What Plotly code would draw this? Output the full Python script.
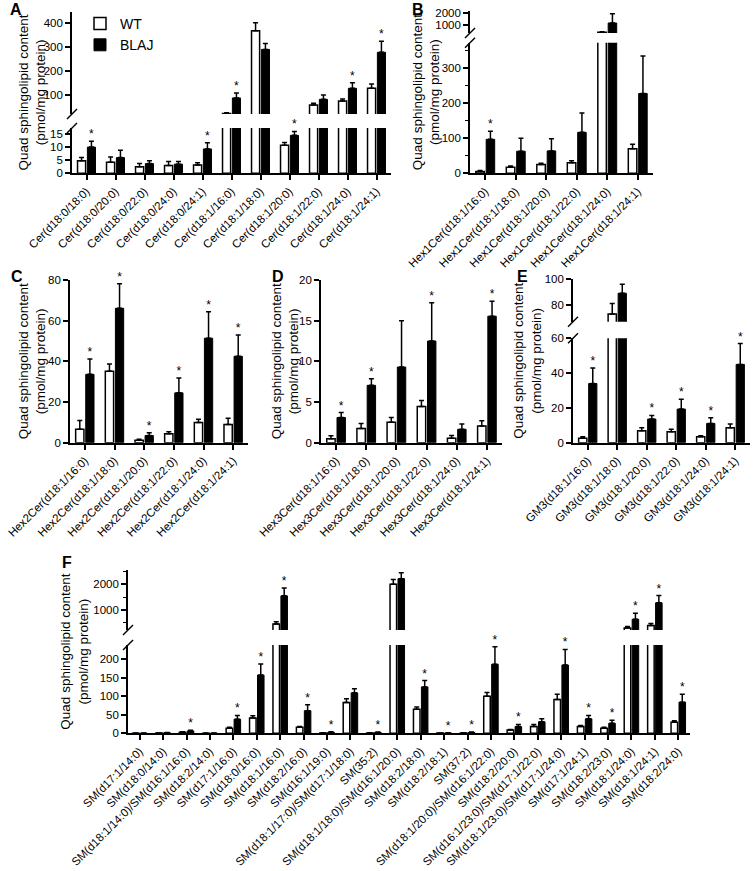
import plotly.graph_objects as go

W, H = 753, 871
FONT = "Liberation Sans, Arial, sans-serif"

# ---- data (pmol/mg protein), mean and SEM ----
A_LABELS = ["Cer(d18:0/18:0)", "Cer(d18:0/20:0)", "Cer(d18:0/22:0)", "Cer(d18:0/24:0)",
            "Cer(d18:0/24:1)", "Cer(d18:1/16:0)", "Cer(d18:1/18:0)", "Cer(d18:1/20:0)",
            "Cer(d18:1/22:0)", "Cer(d18:1/24:0)", "Cer(d18:1/24:1)"]
A_WT = [4.8, 4.2, 2.5, 3.0, 3.2, 22, 367, 10.7, 57, 74, 127]
A_WT_ERR = [1.2, 2.0, 1.2, 1.5, 0.8, 3, 33, 1.1, 8, 8, 18]
A_BLAJ = [10.0, 6.0, 3.7, 3.5, 9.3, 87, 289, 14.5, 81, 127, 277]
A_BLAJ_ERR = [2.2, 2.8, 1.1, 1.0, 2.4, 20, 25, 1.5, 18, 23, 46]
A_SIG = [1, 0, 0, 0, 1, 1, 0, 1, 0, 1, 1]

B_LABELS = ["Hex1Cer(d18:1/16:0)", "Hex1Cer(d18:1/18:0)", "Hex1Cer(d18:1/20:0)",
            "Hex1Cer(d18:1/22:0)", "Hex1Cer(d18:1/24:0)", "Hex1Cer(d18:1/24:1)"]
B_WT = [5, 17, 25, 30, 430, 70]
B_WT_ERR = [3, 4, 4, 6, 40, 13]
B_BLAJ = [97, 63, 64, 117, 1180, 228]
B_BLAJ_ERR = [23, 37, 35, 55, 740, 107]
B_SIG = [1, 0, 0, 0, 0, 0]

C_LABELS = ["Hex2Cer(d18:1/16:0)", "Hex2Cer(d18:1/18:0)", "Hex2Cer(d18:1/20:0)",
            "Hex2Cer(d18:1/22:0)", "Hex2Cer(d18:1/24:0)", "Hex2Cer(d18:1/24:1)"]
C_WT = [6.6, 35.1, 1.2, 4.4, 9.9, 9.0]
C_WT_ERR = [4.3, 3.6, 0.5, 1.0, 1.6, 3.0]
C_BLAJ = [33.6, 66.1, 3.5, 24.5, 51.4, 42.5]
C_BLAJ_ERR = [7.6, 12.0, 1.4, 7.3, 13.0, 10.5]
C_SIG = [1, 1, 1, 1, 1, 1]

D_LABELS = ["Hex3Cer(d18:1/16:0)", "Hex3Cer(d18:1/18:0)", "Hex3Cer(d18:1/20:0)",
            "Hex3Cer(d18:1/22:0)", "Hex3Cer(d18:1/24:0)", "Hex3Cer(d18:1/24:1)"]
D_WT = [0.5, 1.75, 2.5, 4.45, 0.55, 2.05]
D_WT_ERR = [0.35, 0.6, 0.6, 0.75, 0.35, 0.65]
D_BLAJ = [3.1, 7.05, 9.3, 12.5, 1.65, 15.55]
D_BLAJ_ERR = [0.6, 0.8, 5.7, 4.7, 0.65, 1.85]
D_SIG = [1, 1, 0, 1, 0, 1]

E_LABELS = ["GM3(d18:1/16:0)", "GM3(d18:1/18:0)", "GM3(d18:1/20:0)",
            "GM3(d18:1/22:0)", "GM3(d18:1/24:0)", "GM3(d18:1/24:1)"]
E_WT = [2.5, 73, 6.9, 6.3, 3.4, 8.6]
E_WT_ERR = [0.9, 8, 1.7, 1.4, 0.6, 2.1]
E_BLAJ = [34, 89, 13.6, 19.3, 11.1, 45]
E_BLAJ_ERR = [9, 7, 2.1, 5.6, 3.3, 12]
E_SIG = [1, 0, 1, 1, 1, 1]

F_LABELS = ["SM(d17:1/14:0)", "SM(d18:0/14:0)", "SM(d18:1/14:0)/SM(d16:1/16:0)", "SM(d18:2/14:0)",
            "SM(d17:1/16:0)", "SM(d18:0/16:0)", "SM(d18:1/16:0)", "SM(d18:2/16:0)",
            "SM(d16:1/19:0)", "SM(d18:1/17:0)/SM(d17:1/18:0)", "SM(35:2)",
            "SM(d18:1/18:0)/SM(d16:1/20:0)", "SM(d18:2/18:0)", "SM(d18:2/18:1)", "SM(37:2)",
            "SM(d18:1/20:0)/SM(d16:1/22:0)", "SM(d18:2/20:0)", "SM(d16:1/23:0)/SM(d17:1/22:0)",
            "SM(d18:1/23:0)/SM(d17:1/24:0)", "SM(d17:1/24:1)", "SM(d18:2/23:0)",
            "SM(d18:1/24:0)", "SM(d18:1/24:1)", "SM(d18:2/24:0)"]
F_WT = [0.4, 0.8, 3.0, 0.3, 13.5, 41, 460, 16, 1.0, 83, 1.0, 2000,
        65, 0.5, 1.0, 100, 9, 18, 91, 18, 13.5, 295, 400, 30]
F_WT_ERR = [0.2, 0.3, 1.0, 0.2, 2.5, 6, 80, 2.5, 0.5, 10, 0.5, 190,
            6, 0.3, 0.5, 10, 1.5, 6, 14, 3, 2.5, 65, 75, 4]
F_BLAJ = [0.5, 1.5, 6.5, 0.5, 38, 157, 1550, 61, 3.0, 109, 2.5, 2220,
          125, 1.0, 2.5, 186, 18, 31, 184, 39, 27, 640, 1280, 84]
F_BLAJ_ERR = [0.2, 0.5, 2.0, 0.2, 10, 30, 310, 16, 1.0, 11, 1.0, 230,
              17, 0.4, 1.0, 47, 6, 8, 42, 9, 8.5, 230, 280, 21]
F_SIG = [0, 0, 1, 0, 1, 1, 1, 1, 1, 0, 1, 0, 1, 1, 1, 1, 1, 0, 1, 1, 1, 1, 1, 1]

BARGAP = 0.32
BARGROUPGAP = 0.18
TITLE = "Quad sphingolipid content<br>(pmol/mg protein)"


def xdom(left, right):
    return [left / W, right / W]


def ydom(top, bottom):
    return [1 - bottom / H, 1 - top / H]


AXIS = dict(showline=True, linecolor="black", linewidth=1.6, ticks="outside", ticklen=5,
            tickwidth=1.5, tickcolor="black", showgrid=False, zeroline=False,
            tickfont=dict(size=11.5, color="black", family=FONT), automargin=False)

fig = go.Figure()
layout = {}
shapes = []
annotations = []
counters = {"x": 0, "y": 0}


def axname(kind, i):
    return kind if i == 1 else f"{kind}{i}"


def seg_err(vals, errs, lo, hi):
    # error bars are not clipped by plotly, keep only those whose bar top lies in this segment
    return [e if lo <= v <= hi else None for v, e in zip(vals, errs)]


def panel(letter, labels, wt, wt_err, blaj, blaj_err, sig, x_px, segs, title_x, letter_xy,
          legend=False):
    counters["x"] += 1
    ix = counters["x"]
    n = len(labels)
    idx = list(range(n))
    yids = []
    for seg in segs:
        counters["y"] += 1
        yids.append(counters["y"])
    layout["xaxis" + ("" if ix == 1 else str(ix))] = dict(
        domain=xdom(*x_px), anchor=axname("y", yids[0]), range=[-0.5, n - 0.5],
        tickvals=idx, ticktext=labels, tickangle=-45, **AXIS)
    tops = [v + e for v, e in zip(blaj, blaj_err)]
    lower_hi = segs[0]["range"][1]
    for k, (seg, iy) in enumerate(zip(segs, yids)):
        lo, hi = seg["range"]
        ya = dict(domain=ydom(*seg["px"]), anchor=axname("x", ix), range=seg["range"],
                  dtick=seg["dtick"], tick0=0, **AXIS)
        if seg.get("minor"):
            ya["minor"] = dict(dtick=seg["minor"], ticks="outside", ticklen=3, tickwidth=1.2,
                               tickcolor="black", showgrid=False)
        layout["yaxis" + ("" if iy == 1 else str(iy))] = ya
        xa_ref, ya_ref = axname("x", ix), axname("y", iy)
        show = legend and k == 0
        fig.add_trace(go.Bar(x=idx, y=wt, name="WT", showlegend=show, xaxis=xa_ref, yaxis=ya_ref,
                             marker=dict(color="white", line=dict(color="black", width=1.5)),
                             error_y=dict(type="data", symmetric=False,
                                          array=seg_err(wt, wt_err, lo, hi),
                                          arrayminus=[0] * n, color="black", thickness=1.5, width=2.5)))
        fig.add_trace(go.Bar(x=idx, y=blaj, name="BLAJ", showlegend=show, xaxis=xa_ref, yaxis=ya_ref,
                             marker=dict(color="black", line=dict(color="black", width=1)),
                             error_y=dict(type="data", symmetric=False,
                                          array=seg_err(blaj, blaj_err, lo, hi),
                                          arrayminus=[0] * n, color="black", thickness=1.5, width=2.5)))
        # significance stars above the BLAJ bars
        sx, sy = [], []
        for i in idx:
            if not sig[i]:
                continue
            in_lower = tops[i] <= lower_hi
            if (k == 0) == in_lower:
                sx.append(i + (1 - BARGAP) / 4)
                sy.append(tops[i])
        if sx:
            fig.add_trace(go.Scatter(x=sx, y=sy, mode="text", text=["*"] * len(sx),
                                     textposition="top center", showlegend=False, cliponaxis=False,
                                     textfont=dict(size=12, color="black", family=FONT),
                                     xaxis=xa_ref, yaxis=ya_ref, hoverinfo="skip"))
    # axis break marks
    if len(segs) > 1:
        ax = x_px[0]
        for yb in (segs[1]["px"][1], segs[0]["px"][0]):
            shapes.append(dict(type="line", xref="paper", yref="paper",
                               x0=(ax - 5) / W, y0=1 - (yb + 5) / H,
                               x1=(ax + 5) / W, y1=1 - (yb - 5) / H,
                               line=dict(color="black", width=1.5)))
    top_px = min(s["px"][0] for s in segs)
    bottom_px = max(s["px"][1] for s in segs)
    annotations.append(dict(text=TITLE, xref="paper", yref="paper", x=title_x / W,
                            y=1 - (top_px + bottom_px) / 2 / H, textangle=-90, showarrow=False,
                            xanchor="center", yanchor="middle",
                            font=dict(size=13.5, color="black", family=FONT)))
    annotations.append(dict(text=f"<b>{letter}</b>", xref="paper", yref="paper",
                            x=letter_xy[0] / W, y=1 - letter_xy[1] / H, showarrow=False,
                            xanchor="center", yanchor="middle",
                            font=dict(size=16, color="black", family=FONT)))


panel("A", A_LABELS, A_WT, A_WT_ERR, A_BLAJ, A_BLAJ_ERR, A_SIG, (72, 391),
      [dict(range=[0, 17.3], px=(128, 173.3), dtick=5),
       dict(range=[20, 446], px=(11.7, 114), dtick=100)],
      title_x=32, letter_xy=(16, 9), legend=True)
panel("B", B_LABELS, B_WT, B_WT_ERR, B_BLAJ, B_BLAJ_ERR, B_SIG, (470, 653),
      [dict(range=[0, 373], px=(42.7, 173.3), dtick=100, minor=50),
       dict(range=[370, 2150], px=(11, 33), dtick=1000)],
      title_x=426, letter_xy=(418, 9))
panel("C", C_LABELS, C_WT, C_WT_ERR, C_BLAJ, C_BLAJ_ERR, C_SIG, (70, 248),
      [dict(range=[0, 80], px=(280, 442.7), dtick=20)],
      title_x=32, letter_xy=(17, 276))
panel("D", D_LABELS, D_WT, D_WT_ERR, D_BLAJ, D_BLAJ_ERR, D_SIG, (321, 502),
      [dict(range=[0, 20], px=(280, 442.7), dtick=5)],
      title_x=285, letter_xy=(278, 276))
panel("E", E_LABELS, E_WT, E_WT_ERR, E_BLAJ, E_BLAJ_ERR, E_SIG, (573, 750),
      [dict(range=[0, 60], px=(338.3, 442.7), dtick=20),
       dict(range=[67, 100], px=(279, 321.7), dtick=20)],
      title_x=528, letter_xy=(522, 277))
panel("F", F_LABELS, F_WT, F_WT_ERR, F_BLAJ, F_BLAJ_ERR, F_SIG, (128, 690),
      [dict(range=[0, 238], px=(645, 733.3), dtick=50),
       dict(range=[222, 2556], px=(570, 630), dtick=1000, minor=500)],
      title_x=75, letter_xy=(67, 562))

fig.update_layout(
    width=W, height=H, margin=dict(l=0, r=0, t=0, b=0),
    paper_bgcolor="white", plot_bgcolor="white",
    barmode="group", bargap=BARGAP, bargroupgap=BARGROUPGAP,
    font=dict(family=FONT, color="black"),
    legend=dict(x=80 / W, y=1 - 8 / H, xanchor="left", yanchor="top", bgcolor="rgba(0,0,0,0)",
                font=dict(size=14, color="black", family=FONT), tracegroupgap=0),
    shapes=shapes, annotations=annotations,
    **layout,
)

# drop the default 8px page margin so the figure fills the window exactly
fig.write_html("out.html", config={"displayModeBar": False},
               post_script="document.body.style.margin='0';")
